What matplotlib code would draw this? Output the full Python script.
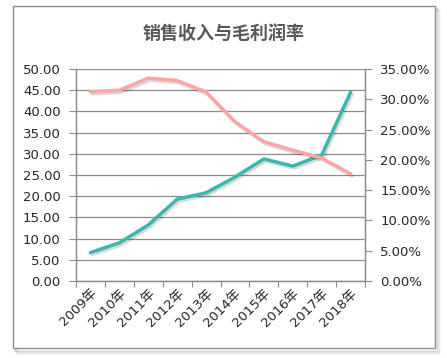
import matplotlib
matplotlib.use("Agg")
import matplotlib.pyplot as plt
import matplotlib.patheffects as pe
from matplotlib.patches import Rectangle
from matplotlib.ticker import FuncFormatter, MultipleLocator

plt.rcParams['font.family'] = ['Noto Sans CJK SC', 'DejaVu Sans']

years = ["2009年", "2010年", "2011年", "2012年", "2013年", "2014年", "2015年", "2016年", "2017年", "2018年"]
revenue = [6.7, 9.0, 13.2, 19.3, 20.8, 24.5, 28.8, 27.1, 29.7, 44.5]
margin = [31.25, 31.5, 33.5, 33.1, 31.2, 26.3, 23.0, 21.6, 20.3, 17.7]  # percent
title = "销售收入与毛利润率"

W, H = 447, 358
fig = plt.figure(figsize=(W / 100, H / 100), dpi=100)
fig.patch.set_facecolor("white")

# frame with shadow
for i, a in enumerate([0.10, 0.08, 0.06, 0.04]):
    fig.patches.append(Rectangle(((13 + 2 + i) / W, (H - 349 - 2 - i) / H), (422) / W, (343) / H,
                                 transform=fig.transFigure, facecolor="none",
                                 edgecolor=(0, 0, 0, a), lw=1.2, zorder=-3))
fig.patches.append(Rectangle((13 / W, (H - 348) / H), 422 / W, 342 / H, transform=fig.transFigure,
                             facecolor="white", edgecolor="#8c8c8c", lw=1.0, zorder=-2))

left, right, top, bottom = 76, 365, 69, 281
ax = fig.add_axes([left / W, (H - bottom) / H, (right - left) / W, (bottom - top) / H])
ax.set_facecolor("none")
ax2 = ax.twinx()

x = list(range(len(years)))
shadow = [pe.SimpleLineShadow(offset=(1.2, -1.5), shadow_color="black", alpha=0.15, rho=0.3), pe.Normal()]
ax.plot(x, revenue, color="#3BB7B0", lw=2.5, solid_capstyle="round", solid_joinstyle="round",
        path_effects=shadow, zorder=3)
ax2.plot(x, margin, color="#FFA5A5", lw=2.5, solid_capstyle="round", solid_joinstyle="round",
         path_effects=shadow, zorder=3)

ax.set_xlim(-0.5, len(years) - 0.5)
ax.set_ylim(0, 50)
ax2.set_ylim(0, 35)
ax.yaxis.set_major_locator(MultipleLocator(5))
ax2.yaxis.set_major_locator(MultipleLocator(5))
ax.yaxis.set_major_formatter(FuncFormatter(lambda v, p: f"{v:.2f}"))
ax2.yaxis.set_major_formatter(FuncFormatter(lambda v, p: f"{v:.2f}%"))

ax.grid(axis="y", color="#8c8c8c", lw=0.9)
ax.set_axisbelow(True)

for s in ["top"]:
    ax.spines[s].set_visible(False)
    ax2.spines[s].set_visible(False)
for a in (ax, ax2):
    for s in ["left", "right", "bottom"]:
        a.spines[s].set_color("#8c8c8c")
        a.spines[s].set_linewidth(0.9)

ax.set_xticks([i - 0.5 for i in range(len(years) + 1)], minor=False)
ax.set_xticklabels([""] * (len(years) + 1))
ax.set_xticks(x, minor=True)
ax.set_xticklabels(years, minor=True, rotation=45, ha="right", rotation_mode="anchor",
                   fontsize=9.5, color="#262626", family=['DejaVu Sans', 'Noto Sans CJK SC'])
ax.tick_params(axis="x", which="minor", length=0, pad=4)
ax.tick_params(axis="x", which="major", length=4, color="#8c8c8c", direction="out")
ax.tick_params(axis="y", length=5, color="#8c8c8c", labelsize=9.5, labelcolor="#262626", pad=6)
ax2.tick_params(axis="y", length=5, color="#8c8c8c", labelsize=9.5, labelcolor="#262626", pad=6)
for lab in ax.get_yticklabels() + ax2.get_yticklabels():
    lab.set_family(['DejaVu Sans'])

fig.text((13 + 435) / 2 / W, 1 - 33 / H, title, ha="center", va="center", fontsize=13,
         fontweight="bold", color="#595959")

fig.savefig("out.png", dpi=100)
